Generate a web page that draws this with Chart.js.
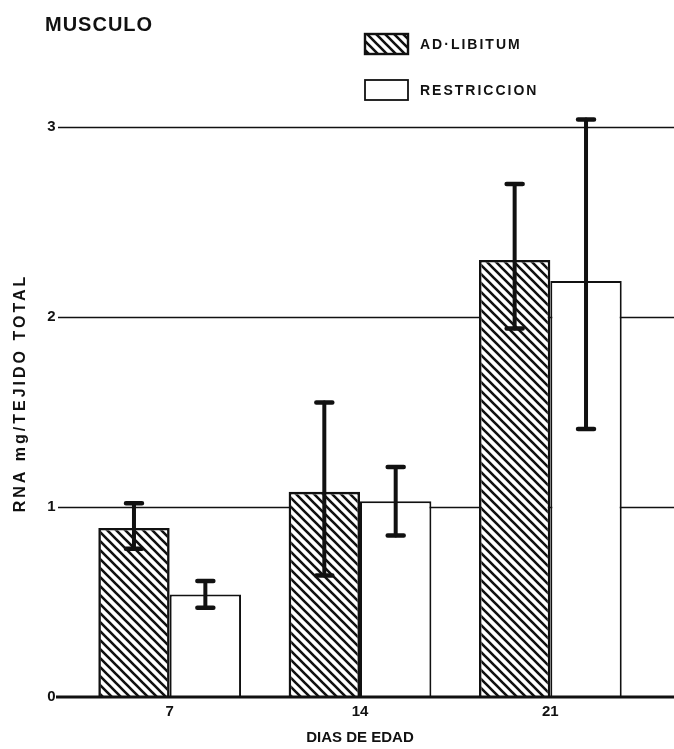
<!DOCTYPE html>
<html>
<head>
<meta charset="utf-8">
<script src="https://cdn.jsdelivr.net/npm/chart.js@4"></script>
<style>
  html, body { margin: 0; padding: 0; background: #fff; }
  #wrap { width: 674px; height: 749px; }
</style>
</head>
<body>
<div id="wrap"><canvas id="c" width="674" height="749"></canvas></div>
<script>
// RNA content of muscle (mg per total tissue) by age in days
const days = ['7', '14', '21'];
const adLibitum = [0.89, 1.08, 2.30];
const restriccion = [0.54, 1.03, 2.19];
// error bar limits
const adLibitumLow = [0.78, 0.64, 1.94];
const adLibitumHigh = [1.02, 1.55, 2.70];
const restriccionLow = [0.47, 0.85, 1.41];
const restriccionHigh = [0.61, 1.21, 3.04];
const yTicks = [0, 1, 2, 3];

const INK = '#111';
const FONT = '"Liberation Sans", Arial, sans-serif';

// diagonal hatching for the ad-libitum bars
function makeHatch() {
  const s = 9;
  const c = document.createElement('canvas');
  c.width = s; c.height = s;
  const g = c.getContext('2d');
  g.fillStyle = '#fff';
  g.fillRect(0, 0, s, s);
  g.strokeStyle = INK;
  g.lineWidth = 2.6;
  g.beginPath();
  for (let k = -1; k <= 1; k++) {
    g.moveTo(k * s - 2, -2);
    g.lineTo(k * s + s + 2, s + 2);
  }
  g.stroke();
  return g.createPattern(c, 'repeat');
}
const hatch = makeHatch();

const errorLimits = [
  { low: adLibitumLow, high: adLibitumHigh },
  { low: restriccionLow, high: restriccionHigh }
];

// horizontal reference lines that run past the plot area
const refLines = {
  id: 'refLines',
  beforeDatasetsDraw(chart) {
    const { ctx, scales: { y } } = chart;
    ctx.save();
    ctx.strokeStyle = INK;
    ctx.lineWidth = 1.6;
    yTicks.filter(v => v > 0).forEach(v => {
      const py = Math.round(y.getPixelForValue(v)) + 0.5;
      ctx.beginPath();
      ctx.moveTo(58, py);
      ctx.lineTo(chart.width, py);
      ctx.stroke();
    });
    ctx.restore();
  },
  afterDatasetsDraw(chart) {
    const { ctx, scales: { y } } = chart;
    ctx.save();
    ctx.strokeStyle = INK;
    ctx.lineWidth = 3.2;
    const py = y.getPixelForValue(0);
    ctx.beginPath();
    ctx.moveTo(56, py);
    ctx.lineTo(chart.width, py);
    ctx.stroke();
    ctx.restore();
  }
};

// error bars with flat caps
const errorBars = {
  id: 'errorBars',
  afterDatasetsDraw(chart) {
    const { ctx, scales: { y } } = chart;
    ctx.save();
    ctx.strokeStyle = INK;
    ctx.lineCap = 'round';
    chart.data.datasets.forEach((ds, di) => {
      const meta = chart.getDatasetMeta(di);
      meta.data.forEach((bar, i) => {
        const x = bar.x;
        const yt = y.getPixelForValue(errorLimits[di].high[i]);
        const yb = y.getPixelForValue(errorLimits[di].low[i]);
        ctx.lineWidth = 4;
        ctx.beginPath();
        ctx.moveTo(x, yt);
        ctx.lineTo(x, yb);
        ctx.stroke();
        ctx.lineWidth = 4.5;
        ctx.beginPath();
        ctx.moveTo(x - 8, yt);
        ctx.lineTo(x + 8, yt);
        ctx.moveTo(x - 8, yb);
        ctx.lineTo(x + 8, yb);
        ctx.stroke();
      });
    });
    ctx.restore();
  }
};

// panel title, legend and vertical axis title
const annotations = {
  id: 'annotations',
  afterDraw(chart) {
    const { ctx } = chart;
    ctx.save();
    ctx.fillStyle = INK;
    ctx.textBaseline = 'middle';

    ctx.font = 'bold 20px ' + FONT;
    ctx.letterSpacing = '1px';
    ctx.textAlign = 'left';
    ctx.fillText('MUSCULO', 45, 25);

    // legend
    const rows = [44, 90];
    chart.data.datasets.forEach((ds, i) => {
      const cy = rows[i];
      ctx.fillStyle = ds.backgroundColor;
      ctx.fillRect(365, cy - 10, 43, 20);
      ctx.strokeStyle = INK;
      ctx.lineWidth = i === 0 ? 2.4 : 1.8;
      ctx.strokeRect(365, cy - 10, 43, 20);
      ctx.fillStyle = INK;
      ctx.font = 'bold 14px ' + FONT;
      ctx.letterSpacing = '2px';
      ctx.fillText(ds.label, 420, cy + 1);
    });

    // y axis title
    ctx.translate(21, 393);
    ctx.rotate(-Math.PI / 2);
    ctx.textAlign = 'center';
    ctx.font = 'bold 16px ' + FONT;
    ctx.letterSpacing = '3px';
    ctx.fillText('RNA mg/TEJIDO TOTAL', 0, 0);
    ctx.restore();
  }
};

new Chart(document.getElementById('c'), {
  type: 'bar',
  data: {
    labels: days,
    datasets: [
      {
        label: 'AD·LIBITUM',
        data: adLibitum,
        backgroundColor: hatch,
        borderColor: INK,
        borderWidth: 2.6
      },
      {
        label: 'RESTRICCION',
        data: restriccion,
        backgroundColor: '#fff',
        borderColor: INK,
        borderWidth: 2
      }
    ]
  },
  options: {
    responsive: false,
    animation: false,
    devicePixelRatio: 1,
    categoryPercentage: 0.75,
    barPercentage: 1.0,
    layout: { padding: { left: 8, right: 28.5, top: 127, bottom: 0 } },
    plugins: {
      legend: { display: false },
      title: { display: false },
      tooltip: { enabled: false }
    },
    scales: {
      x: {
        grid: { display: false, drawTicks: false },
        border: { display: false },
        ticks: {
          color: INK,
          padding: 6,
          font: { family: FONT, size: 15, weight: 'bold' }
        },
        title: {
          display: true,
          text: 'DIAS DE EDAD',
          color: INK,
          padding: { top: 0, bottom: 2 },
          font: { family: FONT, size: 15, weight: 'bold' }
        },
        afterFit(scale) { scale.height = 52; }
      },
      y: {
        min: 0,
        max: 3,
        grid: { display: false, drawTicks: false },
        border: { display: false },
        ticks: {
          stepSize: 1,
          color: INK,
          padding: 19,
          font: { family: FONT, size: 15, weight: 'bold' },
          callback: v => yTicks.includes(v) ? String(v) : ''
        },
        afterFit(scale) { scale.width = 66.5; }
      }
    }
  },
  plugins: [refLines, errorBars, annotations]
});
</script>
</body>
</html>
